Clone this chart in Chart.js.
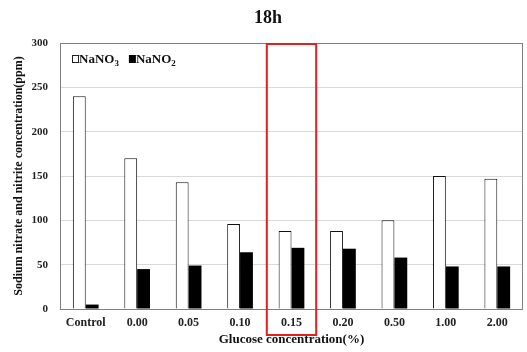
<!DOCTYPE html>
<html>
<head>
<meta charset="utf-8">
<script src="https://cdn.jsdelivr.net/npm/chart.js@4"></script>
<style>
  html, body { margin: 0; padding: 0; background: #fff; }
  #wrap { width: 527px; height: 352px; }
</style>
</head>
<body>
<div id="wrap"><canvas id="myChart" width="527" height="352"></canvas></div>
<script>
const categories = ["Control", "0.00", "0.05", "0.10", "0.15", "0.20", "0.50", "1.00", "2.00"];
const nitrate = [240, 170, 143, 96, 88, 88, 100, 150, 147];
const nitrite = [5, 45, 49, 64, 69, 68, 58, 48, 48];
const highlightIndex = 4;

const serif = "'Liberation Serif', 'Times New Roman', serif";

// title, legend text, plot frame and the red highlight box
const decorations = {
  id: "decorations",
  afterDraw(chart) {
    const ctx = chart.ctx;
    const area = chart.chartArea;
    const x = chart.scales.x;
    const y = chart.scales.y;
    ctx.save();

    // frame round the plot
    ctx.strokeStyle = "#7f7f7f";
    ctx.lineWidth = 1;
    ctx.strokeRect(area.left + 0.5, area.top + 0.5, area.right - area.left - 1, area.bottom - area.top);

    // title
    ctx.fillStyle = "#111";
    ctx.font = "bold 18px " + serif;
    ctx.textAlign = "center";
    ctx.textBaseline = "middle";
    ctx.fillText("18h", 268, 18);

    // legend: open square NaNO3, filled square NaNO2
    ctx.textAlign = "left";
    ctx.textBaseline = "alphabetic";
    let lx = 72;
    const base = 63;
    const drawEntry = (filled, sub) => {
      ctx.lineWidth = 1;
      ctx.strokeStyle = "#222";
      if (filled) {
        ctx.fillStyle = "#000";
        ctx.fillRect(lx, base - 8, 7, 8);
      } else {
        ctx.strokeRect(lx + 0.5, base - 7.5, 6, 7);
      }
      lx += 7;
      ctx.fillStyle = "#111";
      ctx.font = "bold 13px " + serif;
      ctx.fillText("NaNO", lx, base);
      lx += ctx.measureText("NaNO").width;
      ctx.font = "bold 9px " + serif;
      ctx.fillText(sub, lx, base + 3);
      lx += ctx.measureText(sub).width + 10;
    };
    drawEntry(false, "3");
    drawEntry(true, "2");

    // red box round the 0.15 group
    const step = (x.getPixelForValue(1) - x.getPixelForValue(0));
    const cx = x.getPixelForValue(highlightIndex);
    ctx.strokeStyle = "#e3201e";
    ctx.lineWidth = 2;
    ctx.strokeRect(cx - step * 0.48, y.getPixelForValue(300) + 1, step * 0.96, area.bottom - area.top + 25);

    ctx.restore();
  }
};

const ctx = document.getElementById("myChart").getContext("2d");

const myChart = new Chart(ctx, {
  type: "bar",
  data: {
    labels: categories,
    datasets: [
      {
        label: "NaNO3",
        data: nitrate,
        backgroundColor: "#ffffff",
        borderColor: "#111",
        borderWidth: 1,
        categoryPercentage: 0.5,
        barPercentage: 1.0
      },
      {
        label: "NaNO2",
        data: nitrite,
        backgroundColor: "#000000",
        borderColor: "#000000",
        borderWidth: 0,
        categoryPercentage: 0.5,
        barPercentage: 1.0
      }
    ]
  },
  options: {
    responsive: false,
    animation: false,
    layout: { padding: { left: 0, top: 43, right: 4, bottom: 0 } },
    plugins: {
      legend: { display: false },
      tooltip: { enabled: false }
    },
    scales: {
      x: {
        grid: { display: false, drawTicks: false },
        border: { display: false },
        ticks: {
          padding: 7,
          color: "#222",
          font: { family: serif, size: 12, weight: "bold" }
        },
        title: {
          display: true,
          text: "Glucose concentration(%)",
          color: "#111",
          padding: { top: 0, bottom: 5 },
          font: { family: serif, size: 13, weight: "bold" }
        },
        afterFit(scale) { scale.height = 43; }
      },
      y: {
        min: 0,
        max: 300,
        grid: { color: "#d9d9d9", drawTicks: false },
        border: { display: false },
        ticks: {
          stepSize: 50,
          padding: 12,
          color: "#222",
          font: { family: serif, size: 11, weight: "bold" }
        },
        title: {
          display: true,
          text: "Sodium nitrate and nitrite concentration(ppm)",
          color: "#111",
          padding: { top: 12, bottom: 0 },
          font: { family: serif, size: 12, weight: "bold" }
        },
        afterFit(scale) { scale.width = 60; }
      }
    }
  },
  plugins: [decorations]
});
</script>
</body>
</html>
